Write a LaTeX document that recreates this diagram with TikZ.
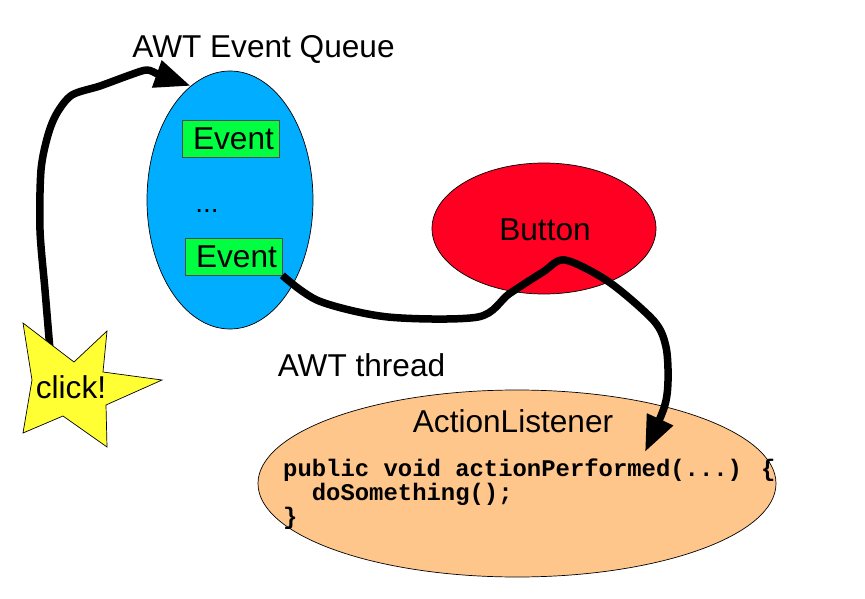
\documentclass[tikz,border=0pt]{standalone}
\usepackage{fontspec}
\setmainfont{Liberation Sans}
\newfontfamily\codefont{Liberation Mono}[BoldFont={Liberation Mono Bold}]
\usetikzlibrary{arrows.meta, positioning, shapes.geometric}
\definecolor{awtblue}{HTML}{00ADFF}
\definecolor{awtgreen}{HTML}{00FF40}
\definecolor{awtred}{HTML}{FF0022}
\definecolor{awtyellow}{HTML}{FFFF33}
\definecolor{awtpeach}{HTML}{FFC68C}
\tikzset{
  bigtext/.style={font=\fontsize{31.6}{36}\selectfont, inner sep=0pt},
  blob/.style={ellipse, draw=black, line width=0.7pt, inner sep=0pt},
  eventbox/.style={rectangle, draw=black!70, line width=0.7pt, fill=awtgreen, minimum width=97pt, minimum height=37pt, inner sep=0pt, font=\fontsize{31.6}{36}\selectfont},
  wire/.style={line width=7.5pt, black, line join=round},
  bigtip/.style={-{Triangle[length=36pt,width=27pt]}},
}
\begin{document}
\begin{tikzpicture}[x=1pt, y=-1pt]
\useasboundingbox (0,0) rectangle (865,599);

% Queue with its events
\node[blob, fill=awtblue, minimum width=166pt, minimum height=258pt] (queue) at (230,200) {};
\node[bigtext, anchor=base] (queuetitle) at (263.5,58) {AWT Event Queue};
\node[eventbox] (event1) at (230.5,138.5) {\hspace*{6pt}Event};
\node[eventbox] (event2) at (233.5,256.5) {\hspace*{6pt}Event};
\node[font=\fontsize{28}{32}\selectfont, inner sep=0pt, anchor=base] (dots) at (207,212) {...};

% Button and listener
\node[blob, fill=awtred, minimum width=224pt, minimum height=131pt] (button) at (544,228.5) {};
\node[bigtext, anchor=base] (buttontext) at (545,240) {Button};
\node[blob, fill=awtpeach, minimum width=518pt, minimum height=187pt] (listener) at (517,483.5) {};
\node[bigtext, anchor=base] (listenertext) at (513,432) {ActionListener};
\node[bigtext, anchor=base] (threadtext) at (361.5,376) {AWT thread};
\node[anchor=north west, inner sep=0pt, align=left, font=\codefont\bfseries\fontsize{23.9}{24}\selectfont] (code) at (283,459) {public void actionPerformed(...) \{\\\ \ doSomething();\\\}};
\coordinate (listenerin) at (645,452);
\coordinate (clicktop) at (50,350);

% Wires
\draw[wire, bigtip] plot[smooth, tension=0.5] coordinates {(clicktop) (45,290) (40,230) (41,170) (48,135) (57,113) (72,95) (100,86) (130,75) (147,70) (160,75) (queue.109.5)};
\draw[wire, bigtip] plot[smooth, tension=0.5] coordinates {(event2.south east) (319,301) (388,317) (478,317) (509,294) (543,272) (565,260) (609,282) (654,321) (666,347) (668,381) (664,408) (listenerin)};

% Star
\draw[fill=awtyellow, line width=0.7pt] (23,323) -- (74,362) -- (107,331) -- (103,372) -- (162,380) -- (106,405) -- (107,447) -- (63,416) -- (23,433) -- (32,380) -- cycle;
\node[bigtext, anchor=base] (click) at (71,398) {click!};
\end{tikzpicture}
\end{document}
